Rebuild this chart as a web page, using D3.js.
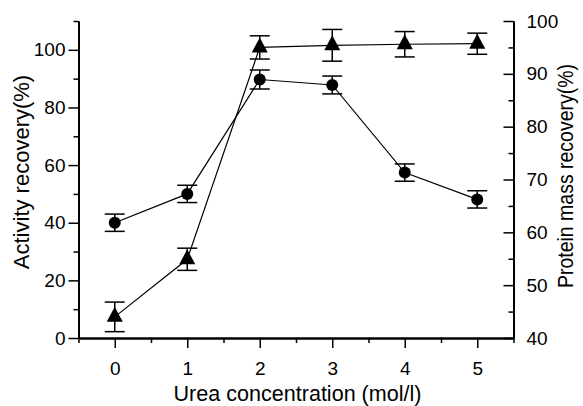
<!DOCTYPE html>
<html>
<head>
<meta charset="utf-8">
<script src="https://cdn.jsdelivr.net/npm/d3@7"></script>
<style>
	body { margin: 0; background: #fff; }
	svg { display: block; }
	text { font-family: "Liberation Sans", Arial, sans-serif; fill: #000; }
</style>
</head>
<body>
<svg id="chart" width="583" height="406"></svg>
<script>
/* urea refolding chart: circles = activity (left), triangles = protein mass (right) */

const conc = [0, 1, 2, 3, 4, 5];
const activity = [40.0, 50.0, 89.7, 87.8, 57.4, 48.1];
const activityErr = [3.0, 3.0, 3.3, 3.1, 3.0, 3.0];
const protein = [44.0, 54.9, 95.0, 95.4, 95.6, 95.7];
const proteinErr = [2.8, 2.1, 2.2, 3.0, 2.4, 2.0];

const xTicks = [0, 1, 2, 3, 4, 5];
const xMinor = [-0.5, 0.5, 1.5, 2.5, 3.5, 4.5, 5.5];
const leftTicks = [0, 20, 40, 60, 80, 100];
const leftMinor = [10, 30, 50, 70, 90, 110];
const rightTicks = [40, 50, 60, 70, 80, 90, 100];
const rightMinor = [45, 55, 65, 75, 85, 95];

let svg = d3.select('#chart'),
	plotLeft = 78.5,
	plotRight = 513.5,
	plotTop = 21,
	plotBottom = 338,
	x = d3.scaleLinear().domain([-0.5, 5.5]).range([plotLeft, plotRight]),
	yL = d3.scaleLinear().domain([0, 110]).range([plotBottom, plotTop]),
	yR = d3.scaleLinear().domain([40, 100]).range([plotBottom, plotTop]),
	fontSize = 19;

function styleAxis(g) {
	g.select('.domain').attr('stroke-width', 2);
	g.selectAll('.tick line').attr('stroke-width', 1.5);
	g.selectAll('text').style('font-size', fontSize + 'px').attr('fill', '#000');
}

// x axis
svg.append('g')
	.attr('transform', 'translate(0,' + plotBottom + ')')
	.call(d3.axisBottom(x).tickValues(xMinor).tickSize(5).tickSizeOuter(0).tickFormat(''))
	.call(styleAxis);
svg.append('g')
	.attr('transform', 'translate(0,' + plotBottom + ')')
	.call(d3.axisBottom(x).tickValues(xTicks).tickSize(10).tickSizeOuter(0).tickFormat(d3.format('d')))
	.call(styleAxis)
	.call(function(g) { g.selectAll('text').attr('dy', null).attr('y', 37); });

// left axis
svg.append('g')
	.attr('transform', 'translate(' + plotLeft + ',0)')
	.call(d3.axisLeft(yL).tickValues(leftMinor).tickSize(5).tickSizeOuter(0).tickFormat(''))
	.call(styleAxis);
svg.append('g')
	.attr('transform', 'translate(' + plotLeft + ',0)')
	.call(d3.axisLeft(yL).tickValues(leftTicks).tickSize(10).tickPadding(3).tickSizeOuter(0))
	.call(styleAxis);

// right axis, ticks point inward
svg.append('g')
	.attr('transform', 'translate(' + plotRight + ',0)')
	.call(d3.axisRight(yR).tickValues(rightMinor).tickSize(-5).tickSizeOuter(0).tickFormat(''))
	.call(styleAxis);
svg.append('g')
	.attr('transform', 'translate(' + plotRight + ',0)')
	.call(d3.axisRight(yR).tickValues(rightTicks).tickSize(-10).tickPadding(13).tickSizeOuter(0))
	.call(styleAxis);

// titles
svg.append('text')
	.attr('x', 297.5)
	.attr('y', 401)
	.attr('text-anchor', 'middle')
	.attr('textLength', 248)
	.attr('lengthAdjust', 'spacingAndGlyphs')
	.style('font-size', '22px')
	.text('Urea concentration (mol/l)');

svg.append('text')
	.attr('transform', 'translate(29,172) rotate(-90)')
	.attr('text-anchor', 'middle')
	.style('font-size', '22px')
	.text('Activity recovery(%)');

svg.append('text')
	.attr('transform', 'translate(573,176) rotate(-90)')
	.attr('text-anchor', 'middle')
	.attr('textLength', 224)
	.attr('lengthAdjust', 'spacingAndGlyphs')
	.style('font-size', '22px')
	.text('Protein mass recovery(%)');

function drawSeries(vals, errs, y, marker) {
	let g = svg.append('g'),
		pts = conc.map(function(c, i) { return {x: c, v: vals[i], e: errs[i]}; }),
		line = d3.line()
			.x(function(d) { return x(d.x); })
			.y(function(d) { return y(d.v); });

	g.append('path')
		.datum(pts)
		.attr('d', line)
		.attr('fill', 'none')
		.attr('stroke', '#000')
		.attr('stroke-width', 1.2);

	let eb = g.selectAll('.err').data(pts).enter().append('g').attr('class', 'err')
		.attr('stroke', '#000').attr('stroke-width', 1.5);
	eb.append('line')
		.attr('x1', function(d) { return x(d.x); })
		.attr('x2', function(d) { return x(d.x); })
		.attr('y1', function(d) { return y(d.v - d.e); })
		.attr('y2', function(d) { return y(d.v + d.e); });
	eb.append('line')
		.attr('x1', function(d) { return x(d.x) - 10; })
		.attr('x2', function(d) { return x(d.x) + 10; })
		.attr('y1', function(d) { return y(d.v + d.e); })
		.attr('y2', function(d) { return y(d.v + d.e); });
	eb.append('line')
		.attr('x1', function(d) { return x(d.x) - 10; })
		.attr('x2', function(d) { return x(d.x) + 10; })
		.attr('y1', function(d) { return y(d.v - d.e); })
		.attr('y2', function(d) { return y(d.v - d.e); });

	if (marker === 'circle') {
		g.selectAll('.pt').data(pts).enter().append('ellipse')
			.attr('cx', function(d) { return x(d.x); })
			.attr('cy', function(d) { return y(d.v); })
			.attr('rx', 6)
			.attr('ry', 6)
			.attr('fill', '#000');
	} else {
		g.selectAll('.pt').data(pts).enter().append('path')
			.attr('transform', function(d) { return 'translate(' + x(d.x) + ',' + y(d.v) + ')'; })
			.attr('d', 'M0,-10L8,5L-8,5Z')
			.attr('fill', '#000');
	}
}

drawSeries(activity, activityErr, yL, 'circle');
drawSeries(protein, proteinErr, yR, 'triangle');
</script>
</body>
</html>
